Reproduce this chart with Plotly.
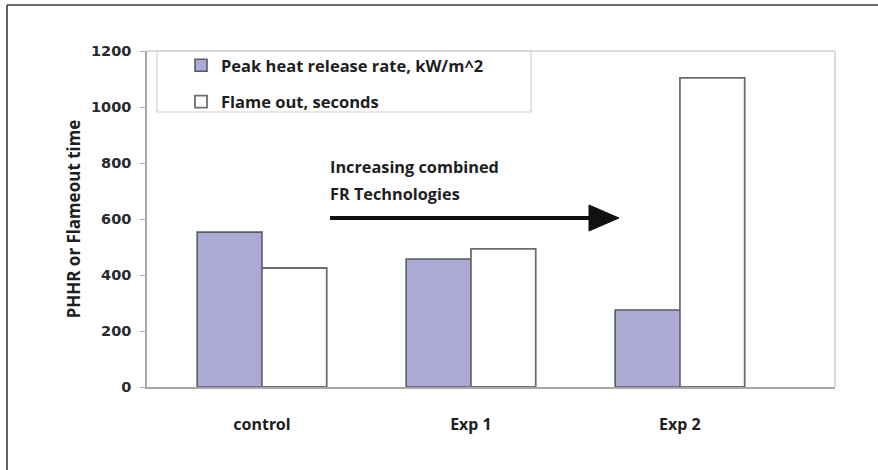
import plotly.graph_objects as go

# Data
groups = ["control", "Exp 1", "Exp 2"]
phrr = [553, 457, 275]           # Peak heat release rate, kW/m^2
flameout = [425, 493, 1104]      # Flame out, seconds
y_ticks = [0, 200, 400, 600, 800, 1000, 1200]

W, H = 878, 470
ML, MR, MT, MB = 147, 43, 51, 83
PW, PH = W - ML - MR, H - MT - MB


def px(x):
    return (x - ML) / PW


def py(y):
    return (H - MB - y) / PH


FONT = "Open Sans"
DARK = "#1e1e1e"

fig = go.Figure()
fig.add_trace(go.Bar(
    x=groups, y=phrr, name="Peak heat release rate, kW/m^2",
    marker=dict(color="#aaaad4", line=dict(color="#5a5a66", width=1.6)),
    legendgroup="a",
))
fig.add_trace(go.Bar(
    x=groups, y=flameout, name="Flame out, seconds",
    marker=dict(color="#ffffff", line=dict(color="#6e6e6e", width=1.8)),
    legendgroup="b",
))

shapes = [
    # outer frame (top and left edges)
    dict(type="line", xref="paper", yref="paper", x0=px(7), x1=px(W + 5), y0=py(5), y1=py(5),
         line=dict(color="#3a3a3a", width=1.6)),
    dict(type="line", xref="paper", yref="paper", x0=px(7), x1=px(7), y0=py(5), y1=py(H + 5),
         line=dict(color="#3a3a3a", width=1.6)),
    # plot area border, top and right
    dict(type="line", xref="paper", yref="paper", x0=0, x1=1, y0=1, y1=1,
         line=dict(color="#d0d0d0", width=1.5)),
    dict(type="line", xref="paper", yref="paper", x0=1, x1=1, y0=0, y1=1,
         line=dict(color="#d0d0d0", width=1.5)),
    # legend box
    dict(type="rect", xref="paper", yref="paper", x0=px(157), x1=px(531), y0=py(112), y1=py(51),
         line=dict(color="#d0d0d0", width=1.2), fillcolor="rgba(0,0,0,0)"),
    # arrow shaft and head
    dict(type="line", xref="paper", yref="paper", x0=px(330), x1=px(594), y0=py(218), y1=py(218),
         line=dict(color="#111111", width=4)),
    dict(type="path", xref="paper", yref="paper",
         path=f"M {px(589)},{py(205)} L {px(619)},{py(218)} L {px(589)},{py(231)} Z",
         fillcolor="#111111", line=dict(color="#111111", width=1)),
]

annotations = [
    dict(xref="paper", yref="paper", x=px(328), y=py(167), xanchor="left", yanchor="middle",
         text="Increasing combined", showarrow=False,
         font=dict(family=FONT, size=16.3, color=DARK, weight=700)),
    dict(xref="paper", yref="paper", x=px(328), y=py(194), xanchor="left", yanchor="middle",
         text="FR Technologies", showarrow=False,
         font=dict(family=FONT, size=16.3, color=DARK, weight=700)),
]

fig.update_layout(
    width=W, height=H,
    margin=dict(l=ML, r=MR, t=MT, b=MB, pad=0),
    paper_bgcolor="white", plot_bgcolor="white",
    barmode="group", bargap=0.38, bargroupgap=0,
    shapes=shapes, annotations=annotations,
    legend=dict(
        x=px(181), y=py(48), xanchor="left", yanchor="top",
        bgcolor="rgba(0,0,0,0)", borderwidth=0,
        traceorder="grouped", tracegroupgap=12,
        font=dict(family=FONT, size=16.5, color=DARK, weight=700),
    ),
    xaxis=dict(
        range=[-0.55, 2.742], showgrid=False, zeroline=False,
        showline=True, linecolor="#a8a8a8", linewidth=1.5,
        ticks="", ticklabelstandoff=22,
        tickfont=dict(family="Noto Sans", size=16, color=DARK, weight=700),
    ),
    yaxis=dict(
        range=[0, 1200], tickvals=y_ticks, showgrid=False, zeroline=False,
        showline=True, linecolor="#a8a8a8", linewidth=1.5,
        ticks="outside", ticklen=5, tickcolor="#b0b0b0", tickwidth=1.2,
        ticklabelstandoff=6,
        tickfont=dict(family="DejaVu Sans", size=14.5, color="#2a2a2a", weight=700),
        title=dict(text="PHHR or Flameout time", standoff=6,
                   font=dict(family="Noto Sans", size=17, color=DARK, weight=700)),
    ),
)

fig.write_html("out.html")
